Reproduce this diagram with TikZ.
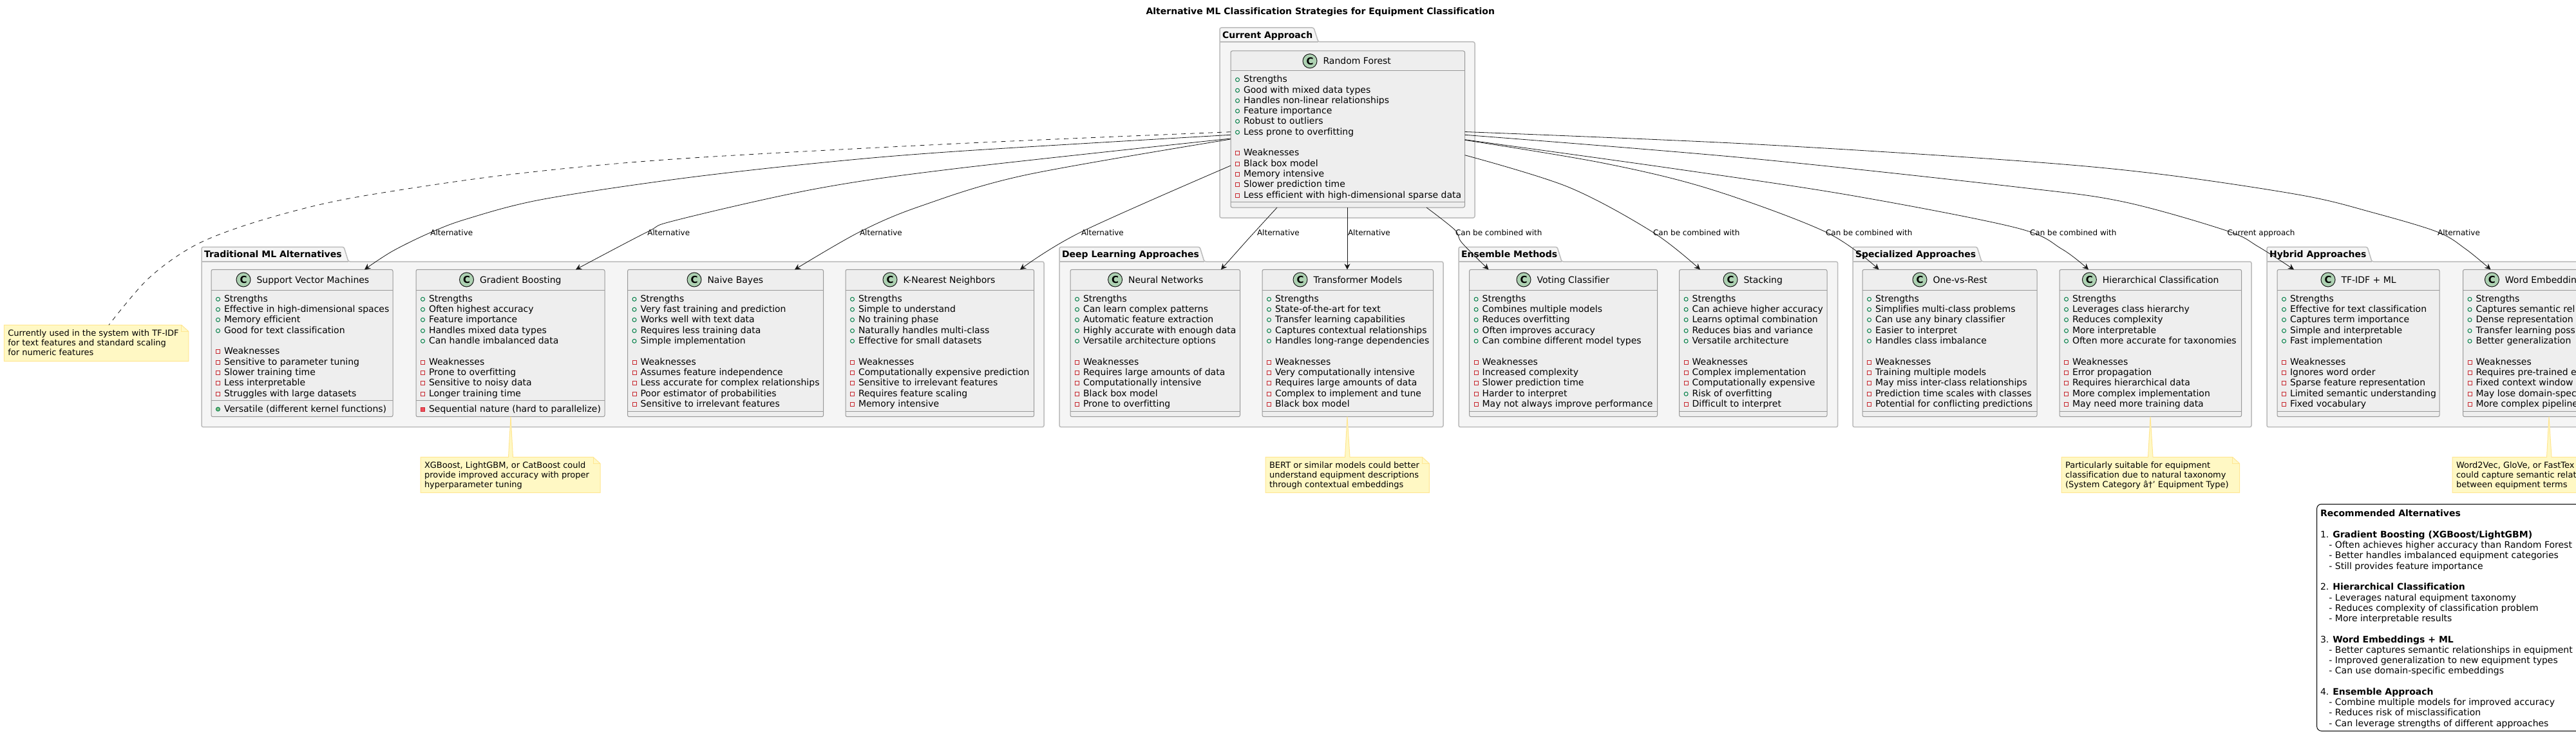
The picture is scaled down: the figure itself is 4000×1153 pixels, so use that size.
\documentclass[tikz,border=0pt]{standalone}
\usepackage{fontspec}
\setmainfont[Ligatures=CommonOff]{DejaVu Sans}
\usetikzlibrary{arrows.meta}
\definecolor{pkgfill}{HTML}{F5F5F5}
\definecolor{pkgline}{HTML}{BBBBBB}
\definecolor{clsfill}{HTML}{EEEEEE}
\definecolor{clsline}{HTML}{999999}
\definecolor{notefill}{HTML}{FFF8C4}
\definecolor{noteline}{HTML}{FFE692}
\definecolor{ink}{HTML}{181818}
\definecolor{cfill}{HTML}{ADD1B2}
\definecolor{pubc}{HTML}{038048}
\definecolor{pubf}{HTML}{84BE84}
\definecolor{prvc}{HTML}{C82930}
\definecolor{prvf}{HTML}{F24D5C}
\newcounter{tn}
\tikzset{
  base text/.style={inner sep=0,outer sep=0,anchor=base west,text=black},
  rowtext/.style={base text,font=\fontsize{14}{16.3}\selectfont},
  linktext/.style={base text,font=\fontsize{12}{14}\selectfont},
  pkgtext/.style={base text,font=\bfseries\fontsize{14}{16.3}\selectfont},
  notetext/.style={inner sep=0,outer sep=0,anchor=north west,align=left,text=black,font=\fontsize{13}{15.1}\selectfont},
  pkgshape/.style={fill=pkgfill,draw=pkgline,line width=1.5pt,rounded corners=2.5pt,line join=round},
  clsbox/.style={fill=clsfill,draw=clsline,line width=1pt,rounded corners=2.5pt,inner sep=0,outer sep=0},
  clsrule/.style={draw=clsline,line width=1pt},
  noteshape/.style={fill=notefill,draw=noteline,line width=1pt},
  conn/.style={draw=ink,line width=.8pt,-{Stealth[length=9pt,width=9pt,inset=3pt]}},
  notelink/.style={draw=ink,line width=.8pt,dash pattern=on 7pt off 7pt},
  legendbox/.style={fill=white,draw=black,line width=1pt,rounded corners=7pt},
}
\newcommand\iconp[2]{\draw[pubc,line width=1pt] (#1,#2) circle[radius=3];}
\newcommand\iconm[2]{\draw[prvc,line width=1pt] (#1-3,#2-3) rectangle (#1+3,#2+3);}
\newcommand\iconP[2]{\draw[pubc,fill=pubf,line width=1pt] (#1,#2) circle[radius=3];}
\newcommand\iconM[2]{\draw[prvc,fill=prvf,line width=1pt] (#1-3,#2-3) rectangle (#1+3,#2+3);}
\newcommand\frow[4]{%
  \pgfmathsetmacro\ix{#1+10.5}\pgfmathsetmacro\tx{#1+20}%
  \pgfmathsetmacro\by{#2+5}\pgfmathsetmacro\iy{#2+1}%
  \csname icon#3\endcsname{\ix}{\iy}%
  \stepcounter{tn}%
  \node[rowtext,name=row\thetn] at (\tx,\by) {#4};%
}
% strengths (first block) and weaknesses (second block) for the lower classes
\newcommand\Sset[2]{\foreach \rowt [count=\ri from 0] in {Strengths,#2}{%
  \pgfmathsetmacro\yy{{463.3,479.3,495.3,512.3,528.3}[\ri]}\frow{#1}{\yy}{p}{\rowt}}}
\newcommand\Wset[2]{\foreach \rowt [count=\ri from 0] in {Weaknesses,#2}{%
  \pgfmathsetmacro\yy{{561.3,577.3,593.3,610.3,626.3}[\ri]}\frow{#1}{\yy}{m}{\rowt}}}
% name,left,right,top,bottom,header y,separator y,circle x,title
\newcommand\cls[9]{%
  \pgfmathsetmacro\cx{(#2+#3)/2}\pgfmathsetmacro\cy{(#4+#5)/2}%
  \pgfmathsetmacro\cw{#3-#2}\pgfmathsetmacro\ch{#5-#4}%
  \node[clsbox,minimum width=\cw pt,minimum height=\ch pt,name=#1] at (\cx,\cy) {};%
  \draw[clsrule] (#1.west |- 0,#6) -- (#1.east |- 0,#6);%
  \draw[clsrule] (#1.west |- 0,#7) -- (#1.east |- 0,#7);%
  \pgfmathsetmacro\ccy{#4+15.7}\pgfmathsetmacro\tby{\ccy+5.2}\pgfmathsetmacro\ttx{#8+20.5}%
  \node[circle,fill=cfill,draw=ink,line width=1pt,minimum size=22pt,inner sep=0,name=#1mark,font=\bfseries\fontsize{15}{15}\selectfont] at (#8,\ccy) {C};%
  \node[rowtext,name=#1title] at (\ttx,\tby) {#9};%
}
\newcommand\lowcls[6]{\cls{#1}{#2}{#3}{418.3}{646.7}{450.3}{638.3}{#4}{#5}}
% name,L,R,tabtop,bodytop,bottom,tab right,title
\newcommand\pkg[8]{%
  \pgfmathsetmacro\tr{#7-7}\pgfmathsetmacro\tby{#4+16.3}\pgfmathsetmacro\tlx{#2+4}%
  \path[pkgshape] (#2,#5) -- (#2,#4) -- (\tr,#4) -- (#7,#5) -- (#3,#5) -- (#3,#6) -- (#2,#6) -- cycle;%
  \draw[pkgline,line width=1.5pt] (#2,#5) -- (#7,#5);%
  \node[pkgtext,name=#1] at (\tlx,\tby) {#8};%
}
% name,L,R,T,B,stem b1,b2,apex spec,text
\newcommand\notepoly[9]{%
  \pgfmathsetmacro\fx{#3-11}\pgfmathsetmacro\fy{#4+10}%
  \pgfmathsetmacro\ntx{#2+6}\pgfmathsetmacro\nty{#4+6.7}%
  \path[noteshape] (#2,#4) -- (#6,#4) -- #8 -- (#7,#4) -- (\fx,#4) -- (#3,\fy) -- (#3,#5) -- (#2,#5) -- cycle;%
  \draw[noteline,line width=1pt] (\fx,#4) -- (\fx,\fy) -- (#3,\fy);%
  \node[notetext,name=#1] at (\ntx,\nty) {\rule{0pt}{10pt}#9};%
}
\begin{document}
\begin{tikzpicture}[x=1pt,y=-1pt]
\useasboundingbox (0,0) rectangle (4000,1153);
\begin{scope}
\clip (0,0) rectangle (4000,1153);
\node[base text,anchor=base east,name=maintitle,font=\bfseries\fontsize{14}{16}\selectfont] at (2321,23) {Alternative ML Classification Strategies for Equipment Classification};
% packages
\pkg{pkgcur}{1894}{2290}{43}{65}{338}{2047}{Current Approach}
\pkg{pkgtrad}{313}{1621}{383.3}{406}{662.7}{541}{Traditional ML Alternatives}
\pkg{pkgdeep}{1645}{2241}{383.3}{406}{662.7}{1870}{Deep Learning Approaches}
\pkg{pkgens}{2265}{2853.6}{383.3}{406}{662.7}{2425}{Ensemble Methods}
\pkg{pkgspec}{2877}{3496}{383.3}{406}{662.7}{3077}{Specialized Approaches}
\pkg{pkghyb}{3520}{4100}{383.3}{406}{662.7}{3683}{Hybrid Approaches}
% Random Forest
\cls{rf}{1911}{2274.5}{79}{322}{110}{313}{2034}{Random Forest}
\foreach \rowt/\yy in {Strengths/122.7,Good with mixed data types/139.3,Handles non-linear relationships/155.3,Feature importance/171.3,Robust to outliers/187.3,Less prone to overfitting/204.3}{\frow{1911}{\yy}{p}{\rowt}}
\foreach \rowt/\yy in {Weaknesses/236.3,Black box model/253.3,Memory intensive/269.3,Slower prediction time/285.3,Less efficient with high-dimensional sparse data/302.3}{\frow{1911}{\yy}{m}{\rowt}}
% Traditional
\cls{svm}{328}{610}{418.3}{646.7}{450.3}{621.3}{378}{Support Vector Machines}
\foreach \rowt/\yy in {Strengths/463.3,Effective in high-dimensional spaces/479.3,Memory efficient/495.3,Good for text classification/512.3}{\frow{328}{\yy}{p}{\rowt}}
\foreach \rowt/\yy in {Weaknesses/544.3,Sensitive to parameter tuning/561.3,Slower training time/577.3,Less interpretable/593.3,Struggles with large datasets/610.3}{\frow{328}{\yy}{m}{\rowt}}
\frow{328}{634}{P}{Versatile (different kernel functions)}
\cls{gb}{646}{939}{418.3}{646.7}{450.3}{621.3}{724.5}{Gradient Boosting}
\foreach \rowt/\yy in {Strengths/463.3,Often highest accuracy/479.3,Feature importance/495.3,Handles mixed data types/512.3,Can handle imbalanced data/528.3}{\frow{646}{\yy}{p}{\rowt}}
\foreach \rowt/\yy in {Weaknesses/561.3,Prone to overfitting/577.3,Sensitive to noisy data/593.3,Longer training time/610.3}{\frow{646}{\yy}{m}{\rowt}}
\frow{646}{634}{M}{Sequential nature (hard to parallelize)}
\cls{nb}{974.5}{1278.6}{418.3}{646.7}{450.3}{638.3}{1078}{Naive Bayes}
\Sset{974.5}{Very fast training and prediction,Works well with text data,Requires less training data,Simple implementation}
\Wset{974.5}{Assumes feature independence,Less accurate for complex relationships,Poor estimator of probabilities,Sensitive to irrelevant features}
\cls{knn}{1313}{1605.6}{418.3}{646.7}{450.3}{638.3}{1382}{K-Nearest Neighbors}
\Sset{1313}{Simple to understand,No training phase,Naturally handles multi-class,Effective for small datasets}
\Wset{1313}{Computationally expensive prediction,Sensitive to irrelevant features,Requires feature scaling,Memory intensive}
% Deep
\cls{nn}{1662}{1925.5}{418.3}{646.7}{450.3}{638.3}{1731.6}{Neural Networks}
\Sset{1662}{Can learn complex patterns,Automatic feature extraction,Highly accurate with enough data,Versatile architecture options}
\Wset{1662}{Requires large amounts of data,Computationally intensive,Black box model,Prone to overfitting}
\cls{tm}{1960}{2225.5}{418.3}{646.7}{450.3}{638.3}{2019}{Transformer Models}
\Sset{1960}{State-of-the-art for text,Transfer learning capabilities,Captures contextual relationships,Handles long-range dependencies}
\Wset{1960}{Very computationally intensive,Requires large amounts of data,Complex to implement and tune,Black box model}
% Ensemble
\cls{vote}{2281.6}{2573.5}{418.3}{646.7}{450.3}{638.3}{2366}{Voting Classifier}
\Sset{2281.6}{Combines multiple models,Reduces overfitting,Often improves accuracy,Can combine different model types}
\Wset{2281.6}{Increased complexity,Slower prediction time,Harder to interpret,May not always improve performance}
\cls{stack}{2607.6}{2837}{418.3}{646.7}{450.3}{638.3}{2687}{Stacking}
\Sset{2607.6}{Can achieve higher accuracy,Learns optimal combination,Reduces bias and variance,Versatile architecture}
\frow{2607.6}{561.3}{m}{Weaknesses}
\frow{2607.6}{577.3}{m}{Complex implementation}
\frow{2607.6}{593.3}{m}{Computationally expensive}
\frow{2607.6}{610.3}{p}{Risk of overfitting}
\frow{2607.6}{626.3}{m}{Difficult to interpret}
% Specialized
\cls{ovr}{2892}{3163}{418.3}{646.7}{450.3}{638.3}{2981}{One-vs-Rest}
\Sset{2892}{Simplifies multi-class problems,Can use any binary classifier,Easier to interpret,Handles class imbalance}
\Wset{2892}{Training multiple models,May miss inter-class relationships,Prediction time scales with classes,Potential for conflicting predictions}
\cls{hier}{3198}{3480.6}{418.3}{646.7}{450.3}{638.3}{3244.4}{Hierarchical Classification}
\Sset{3198}{Leverages class hierarchy,Reduces complexity,More interpretable,Often more accurate for taxonomies}
\Wset{3198}{Error propagation,Requires hierarchical data,More complex implementation,May need more training data}
% Hybrid
\cls{tfidf}{3536}{3788}{418.3}{646.7}{450.3}{638.3}{3615}{TF-IDF + ML}
\Sset{3536}{Effective for text classification,Captures term importance,Simple and interpretable,Fast implementation}
\Wset{3536}{Ignores word order,Sparse feature representation,Limited semantic understanding,Fixed vocabulary}
\cls{we}{3824.5}{4100}{418.3}{646.7}{450.3}{638.3}{3869.4}{Word Embeddin}
\Sset{3824.5}{Captures semantic rel,Dense representation,Transfer learning poss,Better generalization}
\Wset{3824.5}{Requires pre-trained e,Fixed context window,May lose domain-spec,More complex pipeline}
% notes
\notepoly{notecur}{6.3}{292.8}{504.3}{560.7}{169}{169}{(169,504.3)}{Currently used in the system with TF-IDF\\for text features and standard scaling\\for numeric features}
\coordinate (notecurtop) at (169,504.3);
\notepoly{notegb}{653}{932}{709.3}{764.7}{789.5}{796.5}{(793,0 |- gb.south)}{XGBoost, LightGBM, or CatBoost could\\provide improved accuracy with proper\\hyperparameter tuning}
\notepoly{notetm}{1965}{2219.4}{709.3}{764.7}{2088.5}{2096}{(2092,0 |- tm.south)}{BERT or similar models could better\\understand equipment descriptions\\through contextual embeddings}
\notepoly{notehier}{3201}{3477.6}{709.3}{764.7}{3335.5}{3343}{(3339,0 |- hier.south)}{Particularly suitable for equipment\\classification due to natural taxonomy\\(System Category â†’ Equipment Type)}
\notepoly{notewe}{3808}{4100}{709.3}{764.7}{3954.5}{3962}{(3958,0 |- we.south)}{Word2Vec, GloVe, or FastTex\\could capture semantic relat\\between equipment terms}
% connectors
\draw[notelink] plot[smooth,tension=.55] coordinates {(rf.west |- 0,204.7) (1483.6,223) (1050,246.7) (798.7,270) (609,296.7) (494.4,318) (379.6,350) (298.5,383) (229.6,433) (notecurtop)};
\draw[conn] plot[smooth,tension=.55] coordinates {(rf.west |- 0,209.3) (1483.7,235) (1267,253.3) (1050,278) (839,310) (724,340) (666.6,361.7) (609,390) (566,0 |- svm.north)};
\draw[conn] plot[smooth,tension=.55] coordinates {(rf.west |- 0,215) (1483.6,261.7) (1267,293) (1050,341.7) (1005,360) (894,0 |- gb.north)};
\draw[conn] plot[smooth,tension=.55] coordinates {(rf.west |- 0,216) (1592,271.7) (1429,320) (1334.6,360) (1234,0 |- nb.north)};
\draw[conn] plot[smooth,tension=.55] coordinates {(rf.west |- 0,257) (1678.7,360) (1584,0 |- knn.north)};
\draw[conn] (1983,0 |- rf.south) -- (1939,370) -- (1896,0 |- nn.north);
\draw[conn] (2092,0 |- rf.south) -- (2092,0 |- tm.north);
\draw[conn] plot[smooth,tension=.55] coordinates {(2215,0 |- rf.south) (2259,356.7) (2270,376.7) (2311.5,0 |- vote.north)};
\draw[conn] plot[smooth,tension=.55] coordinates {(rf.east |- 0,240.7) (2434.6,290) (2566,360) (2640,0 |- stack.north)};
\draw[conn] plot[smooth,tension=.55] coordinates {(rf.east |- 0,217.3) (2489,253) (2654,293) (2835,360) (2917.5,0 |- ovr.north)};
\draw[conn] plot[smooth,tension=.55] coordinates {(rf.east |- 0,216.7) (2599,261.7) (2873,303) (3130,353.3) (3202,386.7) (3243,0 |- hier.north)};
\draw[conn] plot[smooth,tension=.55] coordinates {(rf.east |- 0,209.3) (2709,245) (3130,290) (3296.5,313) (3457.4,358) (3507,383) (3562,0 |- tfidf.north)};
\draw[conn] plot[smooth,tension=.55] coordinates {(rf.east |- 0,204.5) (2709,223) (3130,249.3) (3352,270) (3574,303) (3685,330) (3785,360) (3829,386.7) (3867.5,0 |- we.north)};
% connector labels
\foreach \lx/\ltxt [count=\li] in {668.4/Alternative,1005.3/Alternative,1335/Alternative,1679/Alternative,1952/Alternative,2093/Alternative,2260/Can be combined with,2567/Can be combined with,2835/Can be combined with,3152/Can be combined with,3458.5/Current approach,3785/Alternative}{
  \node[linktext,name=link\li] at (\lx,365.3) {\ltxt};
}
% legend
\path[legendbox] (3597.6,782.3) rectangle (4100,1134.3);
\node[notetext,name=legend,font=\fontsize{14}{16.26}\selectfont] at (3603,791.3) {\rule{0pt}{10pt}\textbf{Recommended Alternatives}\\\mbox{}\\
1. \textbf{Gradient Boosting (XGBoost/LightGBM)}\\
\hspace*{13.4pt}- Often achieves higher accuracy than Random Forest\\
\hspace*{13.4pt}- Better handles imbalanced equipment categories\\
\hspace*{13.4pt}- Still provides feature importance\\\mbox{}\\
2. \textbf{Hierarchical Classification}\\
\hspace*{13.4pt}- Leverages natural equipment taxonomy\\
\hspace*{13.4pt}- Reduces complexity of classification problem\\
\hspace*{13.4pt}- More interpretable results\\\mbox{}\\
3. \textbf{Word Embeddings + ML}\\
\hspace*{13.4pt}- Better captures semantic relationships in equipment\\
\hspace*{13.4pt}- Improved generalization to new equipment types\\
\hspace*{13.4pt}- Can use domain-specific embeddings\\\mbox{}\\
4. \textbf{Ensemble Approach}\\
\hspace*{13.4pt}- Combine multiple models for improved accuracy\\
\hspace*{13.4pt}- Reduces risk of misclassification\\
\hspace*{13.4pt}- Can leverage strengths of different approaches};
\end{scope}
\end{tikzpicture}
\end{document}
